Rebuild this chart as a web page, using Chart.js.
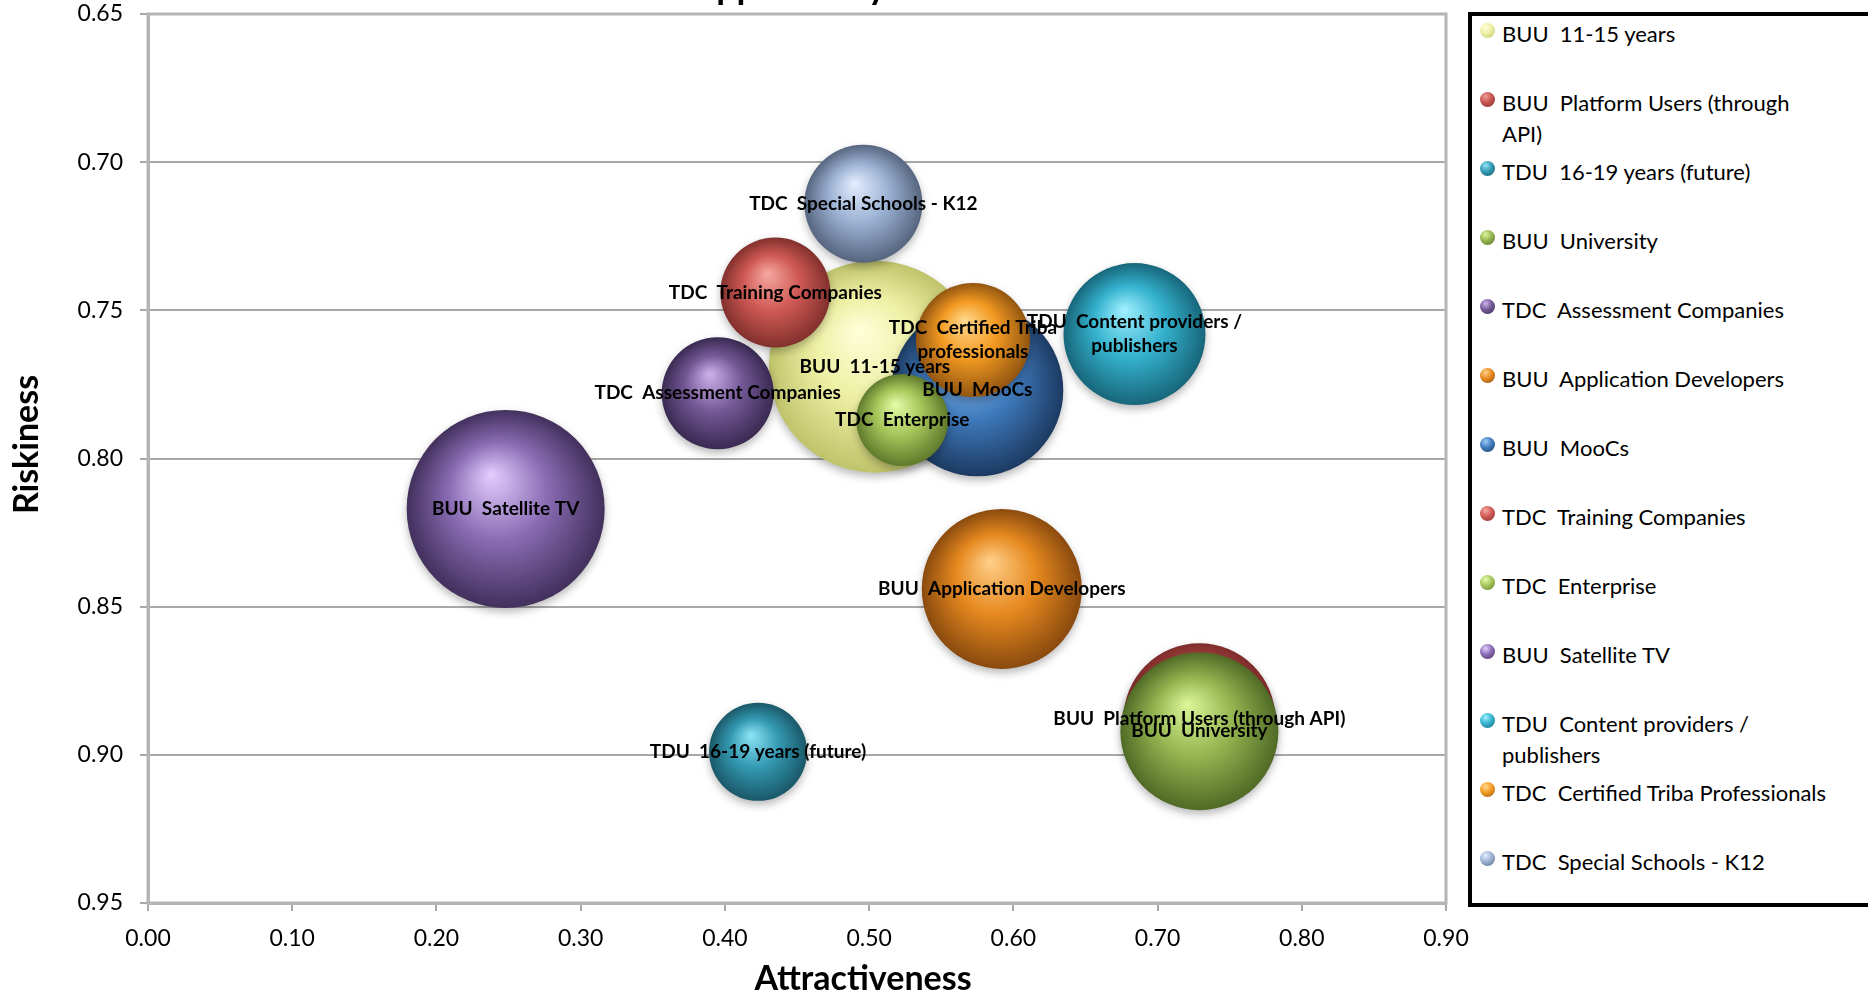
<!DOCTYPE html>
<html>
<head>
<meta charset="utf-8">
<title>Opportunity</title>
<script src="https://cdn.jsdelivr.net/npm/chart.js@4.4.1/dist/chart.umd.min.js"></script>
<style>
    html, body { margin: 0; padding: 0; background: #fff; overflow: hidden; }
    #wrap { position: relative; width: 1868px; height: 995px; }
    #chart { position: absolute; left: 0; top: 0; }
    #legend {
        position: absolute; left: 1468px; top: 12px;
        width: 440px; height: 887px;
        border: 4px solid #000; background: #fff;
        font-family: Lato, sans-serif; font-size: 22px; color: #000;
    }
    .item { position: absolute; left: 0; width: 100%; height: 69px; }
    .dot { position: absolute; left: 8px; top: 5px; width: 15px; height: 15px; border-radius: 50%; }
    .txt { position: absolute; left: 30px; top: 0; white-space: pre; line-height: 31px; }
</style>
</head>
<body>
<div id="wrap">
    <canvas id="chart" width="1868" height="995"></canvas>
    <div id="legend"></div>
</div>
<script>
// Données
const seriesNames = [
    'BUU  11-15 years',
    'BUU  Platform Users (through\nAPI)',
    'TDU  16-19 years (future)',
    'BUU  University',
    'TDC  Assessment Companies',
    'BUU  Application Developers',
    'BUU  MooCs',
    'TDC  Training Companies',
    'TDC  Enterprise',
    'BUU  Satellite TV',
    'TDU  Content providers /\npublishers',
    'TDC  Certified Triba Professionals',
    'TDC  Special Schools - K12'
];
const bubbleLabels = [
    'BUU  11-15 years',
    'BUU  Platform Users (through API)',
    'TDU  16-19 years (future)',
    'BUU  University',
    'TDC  Assessment Companies',
    'BUU  Application Developers',
    'BUU  MooCs',
    'TDC  Training Companies',
    'TDC  Enterprise',
    'BUU  Satellite TV',
    'TDU  Content providers /\npublishers',
    'TDC  Certified Triba\nprofessionals',
    'TDC  Special Schools - K12'
];
const attractiveness = [0.504, 0.729, 0.423, 0.729, 0.395, 0.592, 0.575, 0.435, 0.523, 0.248, 0.684, 0.572, 0.496];
const riskiness      = [0.769, 0.888, 0.899, 0.892, 0.778, 0.844, 0.777, 0.744, 0.787, 0.817, 0.758, 0.760, 0.714];
const bubbleSize     = [106, 76, 49, 79, 56, 80, 86, 55, 46, 99, 71, 57, 59];

const xTicks = [0, 0.1, 0.2, 0.3, 0.4, 0.5, 0.6, 0.7, 0.8, 0.9];
const yTicks = [0.65, 0.70, 0.75, 0.80, 0.85, 0.90, 0.95];

// Couleurs des sphères : clair, base, sombre
const palette = [
    ['#FFFFDA', '#ECEFA2', '#BFC36A'],
    ['#F09C98', '#C55450', '#7E2C2A'],
    ['#8EE4F6', '#3399B2', '#1A5868'],
    ['#DDF79A', '#94B550', '#506A26'],
    ['#CDB2EE', '#745996', '#3A2A52'],
    ['#FFD08A', '#E6891F', '#8A4A0E'],
    ['#9CC8F6', '#3F7BBD', '#1C3A62'],
    ['#F6A8A2', '#D05A55', '#82302D'],
    ['#E4FCA8', '#A6C65A', '#5F7A2C'],
    ['#E4CEFF', '#896BB3', '#42305C'],
    ['#A0F0FF', '#35B2CE', '#17667A'],
    ['#FFD98E', '#F39A22', '#925510'],
    ['#E4EEFF', '#9CB2D3', '#56657F']
];

const GRID = '#a8a8a8';
Chart.defaults.font.family = 'Lato';
Chart.defaults.color = '#000';

function sphereFill(ctx) {
    const i = ctx.datasetIndex;
    const chart = ctx.chart;
    const raw = ctx.raw;
    const c = palette[i];
    if (!raw || !chart.chartArea || !chart.scales.x) return c[1];
    const cx = chart.scales.x.getPixelForValue(raw.x);
    const cy = chart.scales.y.getPixelForValue(raw.y);
    const r = raw.r;
    const g = chart.ctx.createRadialGradient(cx - 0.15 * r, cy - 0.35 * r, 0, cx, cy, r);
    g.addColorStop(0, c[0]);
    g.addColorStop(0.5, c[1]);
    g.addColorStop(1, c[2]);
    return g;
}

const datasets = seriesNames.map((name, i) => ({
    label: name.replace('\n', ' '),
    data: [{ x: attractiveness[i], y: riskiness[i], r: bubbleSize[i] }],
    backgroundColor: sphereFill,
    borderWidth: 0,
    hoverBorderWidth: 0,
    order: seriesNames.length - i
}));

// Cadre, titres et étiquettes
const decorPlugin = {
    id: 'decor',
    beforeDatasetsDraw(chart) {
        const { ctx, chartArea: a } = chart;
        ctx.save();
        ctx.strokeStyle = '#b4b4b4';
        ctx.lineWidth = 3;
        ctx.strokeRect(a.left, a.top, a.right - a.left, a.bottom - a.top);
        ctx.restore();
    },
    beforeDatasetDraw(chart) {
        const ctx = chart.ctx;
        ctx.save();
        ctx.shadowColor = 'rgba(0,0,0,0.28)';
        ctx.shadowBlur = 8;
        ctx.shadowOffsetY = 4;
    },
    afterDatasetDraw(chart) {
        chart.ctx.restore();
    },
    afterDatasetsDraw(chart) {
        const { ctx, chartArea: a } = chart;
        ctx.save();
        ctx.fillStyle = '#000';
        ctx.textAlign = 'center';
        ctx.textBaseline = 'middle';
        ctx.font = 'bold 19px Lato';
        bubbleLabels.forEach((lbl, i) => {
            const el = chart.getDatasetMeta(i).data[0];
            const lines = lbl.split('\n');
            const lh = 24;
            const y0 = el.y - (lines.length - 1) * lh / 2;
            lines.forEach((l, k) => ctx.fillText(l, el.x, y0 + k * lh));
        });

        // Titres des axes
        ctx.font = 'bold 34px Lato';
        ctx.fillText('Attractiveness', (a.left + a.right) / 2 + 66, 979);
        ctx.save();
        ctx.translate(27, (a.top + a.bottom) / 2 - 14);
        ctx.rotate(-Math.PI / 2);
        ctx.fillText('Riskiness', 0, 0);
        ctx.restore();

        // Titre (coupé en haut)
        ctx.font = 'bold 36px Lato';
        ctx.textBaseline = 'alphabetic';
        ctx.fillText('Opportunity', (a.left + a.right) / 2 - 10, -1);
        ctx.restore();
    }
};

new Chart(document.getElementById('chart').getContext('2d'), {
    type: 'bubble',
    data: { datasets },
    options: {
        responsive: false,
        animation: false,
        layout: { autoPadding: false, padding: { left: 0, top: 14, right: 422, bottom: 0 } },
        plugins: {
            legend: { display: false },
            tooltip: { enabled: false }
        },
        scales: {
            x: {
                type: 'linear',
                min: xTicks[0],
                max: xTicks[xTicks.length - 1],
                afterBuildTicks: s => { s.ticks = xTicks.map(v => ({ value: v })); },
                afterFit: s => { s.height = 92; s.paddingLeft = 0; s.paddingRight = 0; },
                ticks: {
                    padding: 14,
                    font: { size: 23 },
                    callback: v => Number(v).toFixed(2)
                },
                grid: { drawOnChartArea: false, color: GRID, lineWidth: 2, tickLength: 8 },
                border: { color: '#b4b4b4', width: 3 }
            },
            y: {
                type: 'linear',
                reverse: true,
                min: yTicks[0],
                max: yTicks[yTicks.length - 1],
                afterBuildTicks: s => { s.ticks = yTicks.map(v => ({ value: v })); },
                afterFit: s => { s.width = 148; s.paddingTop = 0; s.paddingBottom = 0; },
                ticks: {
                    padding: 17,
                    font: { size: 23 },
                    callback: v => Number(v).toFixed(2)
                },
                grid: { color: GRID, lineWidth: 2, tickLength: 8 },
                border: { color: '#b4b4b4', width: 3 }
            }
        }
    },
    plugins: [decorPlugin]
});

// Légende HTML
const legend = document.getElementById('legend');
seriesNames.forEach((name, i) => {
    const c = palette[i];
    const item = document.createElement('div');
    item.className = 'item';
    item.style.top = (1.5 + 69 * i) + 'px';
    item.innerHTML = `<div class="dot" style="background: radial-gradient(circle at 38% 30%, ${c[0]} 0%, ${c[1]} 45%, ${c[2]} 100%);"></div>` +
        `<div class="txt"></div>`;
    item.querySelector('.txt').textContent = name;
    legend.appendChild(item);
});
</script>
</body>
</html>
